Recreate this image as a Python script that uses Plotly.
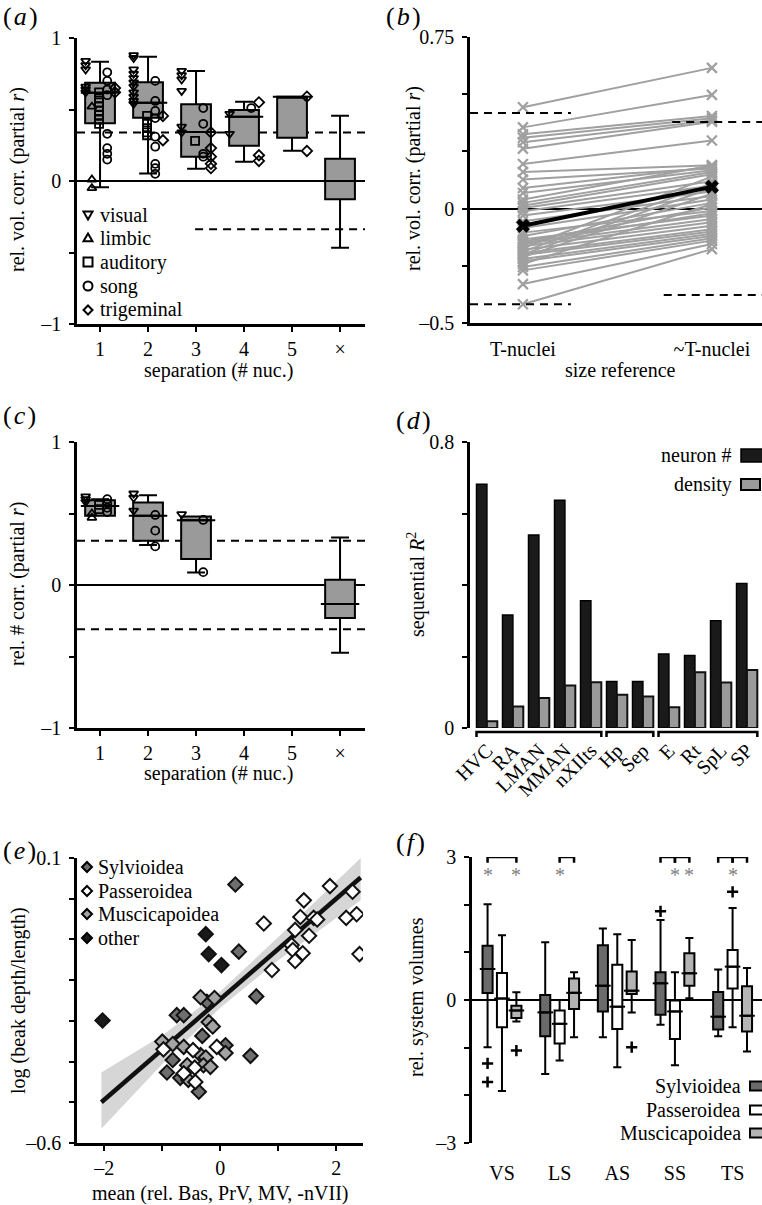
import plotly.graph_objects as go

W, H = 762, 1205
FONT = "Liberation Serif"


def fx(px):
    return px / W


def fy(py):
    return 1 - py / H


# ======================= DATA =======================
# ---- (a) relative volume correlation by separation ----
sep_labels = ["1", "2", "3", "4", "5", "×"]
sep_pos = [1, 2, 3, 4, 5, 6]
a_q1 = [0.403, 0.443, 0.170, 0.247, 0.303, -0.128]
a_med = [0.617, 0.548, 0.343, 0.450, 0.590, 0.0]
a_q3 = [0.687, 0.690, 0.536, 0.497, 0.590, 0.156]
a_lo = [-0.044, 0.053, 0.086, 0.135, 0.212, -0.466]
a_hi = [0.834, 0.869, 0.769, 0.555, 0.590, 0.457]
a_crit_hi = 0.34
a_crit_lo = -0.338

a_visual_sep = [1, 1, 1, 1, 1, 1, 2, 2, 2, 2, 2, 2, 2, 2, 2, 2, 2, 3, 3, 3, 3, 3, 3, 4, 4]
a_visual_r = [0.84, 0.81, 0.78, 0.66, 0.64, 0.62, 0.88, 0.86, 0.78, 0.75, 0.72, 0.69, 0.66,
              0.62, 0.59, 0.56, 0.54, 0.77, 0.74, 0.71, 0.63, 0.38, 0.34, 0.47, 0.33]
a_limbic_sep = [1, 1, 1]
a_limbic_r = [0.52, 0.01, -0.05]
a_auditory_sep = [1, 1, 1, 1, 1, 1, 1, 1, 2, 2, 2, 2, 2, 3]
a_auditory_r = [0.62, 0.58, 0.55, 0.52, 0.49, 0.46, 0.43, 0.40, 0.455, 0.41, 0.37, 0.34, 0.32, 0.28]
a_song_sep = [1, 1, 1, 1, 1, 1, 1, 1, 2, 2, 2, 2, 2, 2, 2, 2, 2, 3, 3, 3, 3, 4]
a_song_r = [0.76, 0.70, 0.64, 0.60, 0.33, 0.23, 0.19, 0.15, 0.70, 0.56, 0.49, 0.44, 0.31,
            0.24, 0.12, 0.09, 0.05, 0.51, 0.40, 0.19, 0.17, 0.51]
a_trig_sep = [1, 1, 2, 2, 3, 3, 3, 3, 3, 4, 4, 4, 5, 5]
a_trig_r = [0.62, 0.65, 0.455, 0.285, 0.34, 0.23, 0.17, 0.12, 0.09, 0.55, 0.18, 0.14, 0.59, 0.21]

# ---- (b) size reference ----
b_labels = ["T-nuclei", "~T-nuclei"]
b_tn = [0.443, 0.355, 0.325, 0.310, 0.290, 0.262, 0.195, 0.160, 0.127, 0.090,
        0.068, 0.040, 0.025, 0.012, 0.003, -0.012, -0.030, -0.055, -0.085, -0.105,
        -0.120, -0.135, -0.145, -0.155, -0.165, -0.172, -0.180, -0.188, -0.195, -0.203,
        -0.212, -0.220, -0.230, -0.242, -0.255, -0.270, -0.330, -0.418, -0.150, -0.200]
b_ntn = [0.615, 0.497, 0.405, 0.395, 0.385, 0.380, 0.298, 0.190, 0.175, 0.182,
         0.168, 0.188, 0.160, 0.150, 0.120, 0.100, 0.075, 0.055, 0.040, -0.010,
         0.025, -0.030, 0.005, -0.045, -0.060, 0.140, -0.075, 0.110, -0.090, -0.100,
         0.065, -0.110, -0.120, 0.020, -0.130, -0.140, -0.155, -0.177, -0.020, 0.090]
b_mean = [-0.075, 0.095]
b_crit_left = 0.418
b_crit_right = 0.378

# ---- (c) relative neuron number correlation ----
c_sep = [1, 2, 3, 6]
c_q1 = [0.484, 0.309, 0.181, -0.230]
c_med = [0.553, 0.484, 0.453, -0.133]
c_q3 = [0.593, 0.577, 0.479, 0.037]
c_lo = [0.484, 0.279, 0.088, -0.474]
c_hi = [0.600, 0.628, 0.479, 0.333]
c_crit = 0.309
c_visual_sep = [1, 1, 1, 2, 2, 2, 3]
c_visual_r = [0.62, 0.60, 0.58, 0.64, 0.61, 0.52, 0.495]
c_limbic_sep = [1, 1]
c_limbic_r = [0.47, 0.50]
c_auditory_sep = [1, 1]
c_auditory_r = [0.56, 0.53]
c_song_sep = [1, 1, 1, 1, 2, 2, 2, 3, 3]
c_song_r = [0.60, 0.57, 0.54, 0.51, 0.49, 0.38, 0.27, 0.455, 0.09]

# ---- (d) sequential R^2 ----
d_nuclei = ["HVC", "RA", "LMAN", "MMAN", "nXIIts", "Hp", "Sep", "E", "Rt", "SpL", "SP"]
d_neuron = [0.682, 0.316, 0.540, 0.637, 0.356, 0.130, 0.130, 0.207, 0.203, 0.300, 0.404]
d_density = [0.019, 0.060, 0.084, 0.119, 0.128, 0.093, 0.088, 0.058, 0.156, 0.127, 0.162]
d_groups = [(0, 4), (5, 6), (7, 10)]

# ---- (e) beak shape vs trigeminal volumes ----
e_sylv_x = [0.26, 0.32, 0.62, 0.52, -0.31, -0.75, -0.63, -0.92, -0.69, -0.37, -0.82, 0.09, -0.23]
e_sylv_y = [0.035, -0.130, -0.240, -0.386, -0.337, -0.286, -0.286, -0.427, -0.440, -0.474,
            -0.396, -0.360, -0.253]
e_pass_x = [1.89, 2.28, 2.35, 2.40, 2.17, 1.44, 1.38, 1.29, 1.61, 1.67, 1.53, 1.23, 1.25,
            1.42, 1.29, 0.75, 0.89, -0.98, -0.47, -0.06, -0.44, -0.63, -0.43]
e_pass_y = [0.031, 0.017, -0.038, -0.136, -0.047, -0.004, -0.045, -0.077, -0.047, -0.051,
            -0.091, -0.114, -0.126, -0.134, -0.153, -0.061, -0.175, -0.370, -0.372, -0.364,
            -0.415, -0.429, -0.450]
e_musc_x = [-0.34, -0.10, -0.20, -0.13, -1.00, -0.82, -0.63, 0.09, -0.34, -0.25, -0.29,
            -0.17, -0.57, -0.55]
e_musc_y = [-0.242, -0.244, -0.303, -0.314, -0.351, -0.357, -0.364, -0.379, -0.384, -0.390,
            -0.409, -0.413, -0.409, -0.445]
e_other_x = [-2.03, -0.25, -0.20, 0.02]
e_other_y = [-0.299, -0.087, -0.136, -0.163]
e_fit_x = [-2.05, 2.42]
e_fit_y = [-0.500, 0.052]
e_band_x = [-2.05, -1.0, 0.0, 1.0, 2.42]
e_band_hi = [-0.427, -0.336, -0.228, -0.094, 0.100]
e_band_lo = [-0.565, -0.406, -0.268, -0.151, -0.004]
e_groups = ["Sylvioidea", "Passeroidea", "Muscicapoidea", "other"]

# ---- (f) relative system volumes per superfamily ----
f_systems = ["VS", "LS", "AS", "SS", "TS"]
f_clades = ["Sylvioidea", "Passeroidea", "Muscicapoidea"]
f_q1 = [[0.147, -0.76, -0.24, -0.31, -0.62],
        [-0.57, -0.91, -0.61, -0.82, 0.24],
        [-0.38, -0.19, 0.126, 0.30, -0.66]]
f_med = [[0.65, -0.26, 0.30, 0.35, -0.35],
         [0.03, -0.50, -0.14, -0.24, 0.70],
         [-0.22, 0.15, 0.195, 0.56, -0.33]]
f_q3 = [[1.14, 0.105, 1.15, 0.58, 0.17],
        [0.565, -0.22, 0.74, -0.01, 1.05],
        [-0.12, 0.45, 0.60, 0.98, 0.29]]
f_lo = [[-0.99, -1.55, -0.78, -0.52, -0.76],
        [-1.91, -1.27, -1.41, -1.37, -0.57],
        [-0.45, -0.78, -0.26, 0.035, -1.08]]
f_hi = [[2.01, 1.21, 1.50, 1.68, 0.64],
        [1.36, 0.0, 1.38, 0.58, 1.93],
        [0.16, 0.58, 1.26, 1.30, 0.67]]
f_out_sys = [0, 0, 0, 2, 3, 4]
f_out_clade = [0, 0, 2, 2, 0, 1]
f_out_val = [-1.33, -1.72, -1.06, -0.99, 1.86, 2.27]
# significance brackets: (system, clade_from, clade_to); asterisks: (system, clade)
f_brackets = [(0, 0, 2), (1, 1, 2), (3, 0, 1), (3, 1, 2), (4, 0, 1), (4, 1, 2)]
f_stars = [(0, 0), (0, 2), (1, 1), (3, 1), (3, 2), (4, 1)]

# ======================= STYLE =======================
BOXGRAY = "#9a9a9a"
LINEGRAY = "#a0a0a0"
f_fill = ["#6b6b6b", "#ffffff", "#b4b4b4"]
e_fill = ["#6e6e6e", "#ffffff", "#a3a3a3", "#1a1a1a"]
sym_off = {"visual": -0.30, "limbic": -0.17, "auditory": -0.02, "song": 0.15, "trigeminal": 0.31}
sym_name = {"visual": "triangle-down-open", "limbic": "triangle-up-open",
            "auditory": "square-open", "song": "circle-open", "trigeminal": "diamond-open"}
f_off = [-0.25, 0.0, 0.25]

fig = go.Figure()


def median_ext(pos, meds, hw, xa, ya):
    xs, ys = [], []
    for p, m in zip(pos, meds):
        xs += [p - hw, p + hw, None]
        ys += [m, m, None]
    return go.Scatter(x=xs, y=ys, mode="lines", line=dict(color="black", width=2),
                      xaxis=xa, yaxis=ya, hoverinfo="skip")


def sym_trace(seps, vals, kind, xa, ya):
    return go.Scatter(x=[s + sym_off[kind] for s in seps], y=vals, mode="markers",
                      marker=dict(symbol=sym_name[kind], size=8, color="black",
                                  line=dict(width=1.8, color="black")),
                      xaxis=xa, yaxis=ya, hoverinfo="skip")


# ---- (a) ----
fig.add_trace(go.Box(x=sep_pos, q1=a_q1, median=a_med, q3=a_q3, lowerfence=a_lo,
                     upperfence=a_hi, width=0.62, whiskerwidth=0.6, fillcolor=BOXGRAY,
                     line=dict(color="black", width=2), boxpoints=False,
                     xaxis="x", yaxis="y", hoverinfo="skip"))
fig.add_trace(median_ext(sep_pos, a_med, 0.40, "x", "y"))
for seps, vals, kind in [(a_visual_sep, a_visual_r, "visual"), (a_limbic_sep, a_limbic_r, "limbic"),
                         (a_auditory_sep, a_auditory_r, "auditory"), (a_song_sep, a_song_r, "song"),
                         (a_trig_sep, a_trig_r, "trigeminal")]:
    fig.add_trace(sym_trace(seps, vals, kind, "x", "y"))

# ---- (b) ----
bx, by = [], []
for l, r in zip(b_tn, b_ntn):
    bx += [0, 1, None]
    by += [l, r, None]
fig.add_trace(go.Scatter(x=bx, y=by, mode="lines+markers",
                         line=dict(color=LINEGRAY, width=2),
                         marker=dict(symbol="x-thin-open", size=10, color=LINEGRAY,
                                     line=dict(width=2.2, color=LINEGRAY)),
                         xaxis="x2", yaxis="y2", hoverinfo="skip"))
fig.add_trace(go.Scatter(x=[0, 1], y=b_mean, mode="lines+markers",
                         line=dict(color="black", width=4),
                         marker=dict(symbol="x", size=12, color="black",
                                     line=dict(width=0.5, color="black")),
                         xaxis="x2", yaxis="y2", hoverinfo="skip"))

# ---- (c) ----
fig.add_trace(go.Box(x=c_sep, q1=c_q1, median=c_med, q3=c_q3, lowerfence=c_lo,
                     upperfence=c_hi, width=0.62, whiskerwidth=0.6, fillcolor=BOXGRAY,
                     line=dict(color="black", width=2), boxpoints=False,
                     xaxis="x3", yaxis="y3", hoverinfo="skip"))
fig.add_trace(median_ext(c_sep, c_med, 0.40, "x3", "y3"))
for seps, vals, kind in [(c_visual_sep, c_visual_r, "visual"), (c_limbic_sep, c_limbic_r, "limbic"),
                         (c_auditory_sep, c_auditory_r, "auditory"), (c_song_sep, c_song_r, "song")]:
    fig.add_trace(sym_trace(seps, vals, kind, "x3", "y3"))

# ---- (d) ----
d_idx = list(range(len(d_nuclei)))
fig.add_trace(go.Bar(x=d_idx, y=d_neuron, marker=dict(color="#1a1a1a", line=dict(color="black", width=1.5)),
                     xaxis="x4", yaxis="y4", hoverinfo="skip"))
fig.add_trace(go.Bar(x=d_idx, y=d_density, marker=dict(color=BOXGRAY, line=dict(color="#111111", width=2)),
                     xaxis="x4", yaxis="y4", hoverinfo="skip"))

# ---- (e) ----
fig.add_trace(go.Scatter(x=e_band_x + e_band_x[::-1], y=e_band_hi + e_band_lo[::-1],
                         fill="toself", fillcolor="#d6d6d6", line=dict(width=0),
                         mode="lines", xaxis="x5", yaxis="y5", hoverinfo="skip"))
fig.add_trace(go.Scatter(x=e_fit_x, y=e_fit_y, mode="lines", line=dict(color="#111111", width=4.5),
                         xaxis="x5", yaxis="y5", hoverinfo="skip"))
for xs, ys, col in [(e_sylv_x, e_sylv_y, e_fill[0]), (e_musc_x, e_musc_y, e_fill[2]),
                    (e_pass_x, e_pass_y, e_fill[1]), (e_other_x, e_other_y, e_fill[3])]:
    fig.add_trace(go.Scatter(x=xs, y=ys, mode="markers",
                             marker=dict(symbol="diamond", size=11, color=col,
                                         line=dict(width=2, color="#111111")),
                             xaxis="x5", yaxis="y5", hoverinfo="skip"))

# ---- (f) ----
for k in range(3):
    pos = [i + f_off[k] for i in range(len(f_systems))]
    fig.add_trace(go.Box(x=pos, q1=f_q1[k], median=f_med[k], q3=f_q3[k], lowerfence=f_lo[k],
                         upperfence=f_hi[k], width=0.175, whiskerwidth=0.8, fillcolor=f_fill[k],
                         line=dict(color="black", width=2), boxpoints=False,
                         xaxis="x6", yaxis="y6", hoverinfo="skip"))
    fig.add_trace(median_ext(pos, f_med[k], 0.135, "x6", "y6"))
fig.add_trace(go.Scatter(x=[s + f_off[c] for s, c in zip(f_out_sys, f_out_clade)], y=f_out_val,
                         mode="markers",
                         marker=dict(symbol="cross-thin-open", size=8, color="black",
                                     line=dict(width=2.5, color="black")),
                         xaxis="x6", yaxis="y6", hoverinfo="skip"))


# ======================= AXES =======================
def axis(dom, rng, tv, tt, anchor, ticks="outside", showline=True, zeroline=False,
         tickangle=0, standoff=4):
    return dict(domain=dom, range=rng, tickmode="array", tickvals=tv, ticktext=tt, anchor=anchor,
                showline=showline, linecolor="black", linewidth=2.5, ticks=ticks, ticklen=5,
                tickwidth=2, tickcolor="black", showgrid=False, zeroline=zeroline,
                zerolinecolor="black", zerolinewidth=2, tickangle=tickangle,
                ticklabelstandoff=standoff, automargin=False,
                tickfont=dict(family=FONT, size=20, color="black"), fixedrange=True)


XA = [fx(77), fx(365)]
XB = [fx(470), fx(762)]
layout = dict(
    template="none",
    width=W, height=H, margin=dict(l=0, r=0, t=0, b=0, pad=0),
    paper_bgcolor="white", plot_bgcolor="white", showlegend=False,
    font=dict(family=FONT, size=20, color="black"),
    barmode="group", bargap=0.2, bargroupgap=0.0, boxmode="overlay",
    xaxis=axis(XA, [0.52, 6.52], sep_pos, sep_labels, "y", standoff=0),
    yaxis=axis([fy(324), fy(38)], [-1, 1], [-1, -0.5, 0, 0.5, 1], ["–1", "", "0", "", "1"], "x",
               zeroline=True),
    xaxis2=axis(XB, [-0.28, 1.265], [0, 1], b_labels, "y2", ticks="", standoff=6),
    yaxis2=axis([fy(323), fy(37)], [-0.5, 0.75], [-0.5, -0.25, 0, 0.25, 0.5, 0.75],
                ["–0.5", "", "0", "", "", "0.75"], "x2", zeroline=True),
    xaxis3=axis(XA, [0.52, 6.52], sep_pos, sep_labels, "y3", standoff=0),
    yaxis3=axis([fy(728), fy(442)], [-1, 1], [-1, -0.5, 0, 0.5, 1], ["–1", "", "0", "", "1"], "x3",
                zeroline=True),
    xaxis4=axis(XB, [-0.65, 10.58], d_idx, d_nuclei, "y4", ticks="", showline=False,
                tickangle=-45, standoff=6),
    yaxis4=axis([fy(728), fy(442)], [0, 0.8], [0, 0.2, 0.4, 0.6, 0.8], ["0", "", "", "", "0.8"], "x4"),
    xaxis5=axis([fx(77), fx(363)], [-2.47, 2.46], [-2, -1, 0, 1, 2], ["–2", "", "0", "", "2"], "y5",
                standoff=0),
    yaxis5=axis([fy(1143), fy(858)], [-0.6, 0.1], [-0.6, -0.5, -0.4, -0.3, -0.2, -0.1, 0, 0.1],
                ["–0.6", "", "", "", "", "", "", "0.1"], "x5"),
    xaxis6=axis([fx(472), fx(762)], [-0.52, 4.51], list(range(len(f_systems))), f_systems, "y6",
                ticks="", showline=False, standoff=16),
    yaxis6=axis([fy(1143), fy(857)], [-3, 3], [-3, -2, -1, 0, 1, 2, 3],
                ["–3", "", "", "0", "", "", "3"], "x6", zeroline=True),
)

# ======================= SHAPES =======================
shapes = []
DASH = "8px,6px"


def hline(x0, x1, y, xref, yref, dash=DASH, width=2, layer="below"):
    shapes.append(dict(type="line", x0=x0, x1=x1, y0=y, y1=y, xref=xref, yref=yref,
                       line=dict(color="black", width=width, dash=dash), layer=layer))


# (a) critical values
hline(0.52, 6.52, a_crit_hi, "x", "y")
hline(2.98, 6.52, a_crit_lo, "x", "y")
# (b)
hline(-0.28, 0.254, b_crit_left, "x2", "y2", layer="above")
hline(-0.28, 0.254, -b_crit_left, "x2", "y2", layer="above")
hline(0.79, 1.265, b_crit_right, "x2", "y2", layer="above")
hline(0.745, 1.265, -b_crit_right, "x2", "y2", layer="above")
# (c)
hline(0.52, 6.52, c_crit, "x3", "y3")
hline(0.52, 6.52, -c_crit, "x3", "y3")

# (d) grouping brackets below the axis
for g0, g1 in d_groups:
    x0, x1 = g0 - 0.4, min(g1 + 0.4, 10.58)
    shapes.append(dict(type="path", xref="x4", yref="paper",
                       path=f"M {x0},{fy(737):.5f} L {x0},{fy(732):.5f} L {x1},{fy(732):.5f} L {x1},{fy(737):.5f}",
                       line=dict(color="black", width=2.5)))

# (f) significance brackets
for s, c0, c1 in f_brackets:
    x0, x1 = s + f_off[c0], s + f_off[c1]
    shapes.append(dict(type="path", xref="x6", yref="y6",
                       path=f"M {x0},2.88 L {x0},3.0 L {x1},3.0 L {x1},2.88",
                       line=dict(color="black", width=2.5), layer="above"))


# legend symbols (paper coords)
def P(cx, cy):
    return f"{fx(cx):.5f},{fy(cy):.5f}"


def sym_shape(kind, cx, cy, r=4.5, fill="rgba(0,0,0,0)", lw=2):
    if kind == "visual":
        path = f"M {P(cx - r, cy - r * 0.75)} L {P(cx + r, cy - r * 0.75)} L {P(cx, cy + r)} Z"
    elif kind == "limbic":
        path = f"M {P(cx - r, cy + r * 0.75)} L {P(cx + r, cy + r * 0.75)} L {P(cx, cy - r)} Z"
    elif kind == "auditory":
        path = f"M {P(cx - r, cy - r)} L {P(cx + r, cy - r)} L {P(cx + r, cy + r)} L {P(cx - r, cy + r)} Z"
    elif kind == "song":
        shapes.append(dict(type="circle", xref="paper", yref="paper", x0=fx(cx - r), x1=fx(cx + r),
                           y0=fy(cy + r), y1=fy(cy - r), line=dict(color="black", width=lw),
                           fillcolor=fill))
        return
    else:
        path = f"M {P(cx, cy - r)} L {P(cx + r, cy)} L {P(cx, cy + r)} L {P(cx - r, cy)} Z"
    shapes.append(dict(type="path", xref="paper", yref="paper", path=path,
                       line=dict(color="black", width=lw), fillcolor=fill))


annotations = []


def text(x, y, s, xanchor="left", size=20, angle=0, color="black"):
    annotations.append(dict(x=fx(x), y=fy(y), xref="paper", yref="paper", text=s, showarrow=False,
                            xanchor=xanchor, yanchor="middle", textangle=angle,
                            font=dict(family=FONT, size=size, color=color)))


# (a) legend
a_legend_rows = [215, 238, 262, 286, 310]
for kind, yy in zip(["visual", "limbic", "auditory", "song", "trigeminal"], a_legend_rows):
    sym_shape(kind, 88, yy)
    text(98, yy, kind)

# (e) legend
e_legend_rows = [867, 891, 914, 938]
for name, col, yy in zip(e_groups, e_fill, e_legend_rows):
    sym_shape("trigeminal", 87, yy, r=5, fill=col)
    text(96, yy, name)

# (d) legend
shapes.append(dict(type="rect", xref="paper", yref="paper", x0=fx(741), x1=fx(763), y0=fy(462), y1=fy(449),
                   fillcolor="#1a1a1a", line=dict(color="black", width=1.5)))
shapes.append(dict(type="rect", xref="paper", yref="paper", x0=fx(741), x1=fx(760), y0=fy(490), y1=fy(479),
                   fillcolor=BOXGRAY, line=dict(color="black", width=2)))
text(734, 455, "neuron #", xanchor="right")
text(734, 484, "density", xanchor="right")

# (f) legend
for name, col, yy in zip(f_clades, f_fill, [1086, 1110, 1133]):
    shapes.append(dict(type="rect", xref="paper", yref="paper", x0=fx(750), x1=fx(763),
                       y0=fy(yy + 4.5), y1=fy(yy - 4.5), fillcolor=col,
                       line=dict(color="black", width=2)))
    text(743, yy, name, xanchor="right")

# (f) asterisks
for s, c in f_stars:
    annotations.append(dict(x=s + f_off[c], y=2.62, xref="x6", yref="y6", text="*", showarrow=False,
                            xanchor="center", yanchor="middle",
                            font=dict(family=FONT, size=20, color="#808080")))

# panel labels
for lab, x, y in [("a", 1, 17), ("b", 384, 17), ("c", 1, 415), ("d", 394, 420), ("e", 1, 850),
                  ("f", 394, 842)]:
    text(x, y, f"(\u200a<i>{lab}</i>\u200a)", size=26)

# axis titles
text(17, 180, "rel. vol. corr. (partial <i>r</i>)", xanchor="center", angle=-90)
text(413, 179, "rel. vol. corr. (partial <i>r</i>)", xanchor="center", angle=-90)
text(17, 584, "rel. # corr. (partial <i>r</i>)", xanchor="center", angle=-90)
text(416, 585, "sequential <i>R</i><sup>2</sup>", xanchor="center", angle=-90)
text(18, 1001, "log (beak depth/length)", xanchor="center", angle=-90)
text(417, 997, "rel. system volumes", xanchor="center", angle=-90)
text(218, 370, "separation (# nuc.)", xanchor="center")
text(620, 370, "size reference", xanchor="center")
text(218, 773, "separation (# nuc.)", xanchor="center")
text(220, 1193, "mean (rel. Bas, PrV, MV, -nVII)", xanchor="center")

layout["shapes"] = shapes
layout["annotations"] = annotations
fig.update_layout(**layout)
fig.write_html("out.html", config={"displayModeBar": False},
               post_script="document.body.style.margin='0';document.body.style.overflow='hidden';")
